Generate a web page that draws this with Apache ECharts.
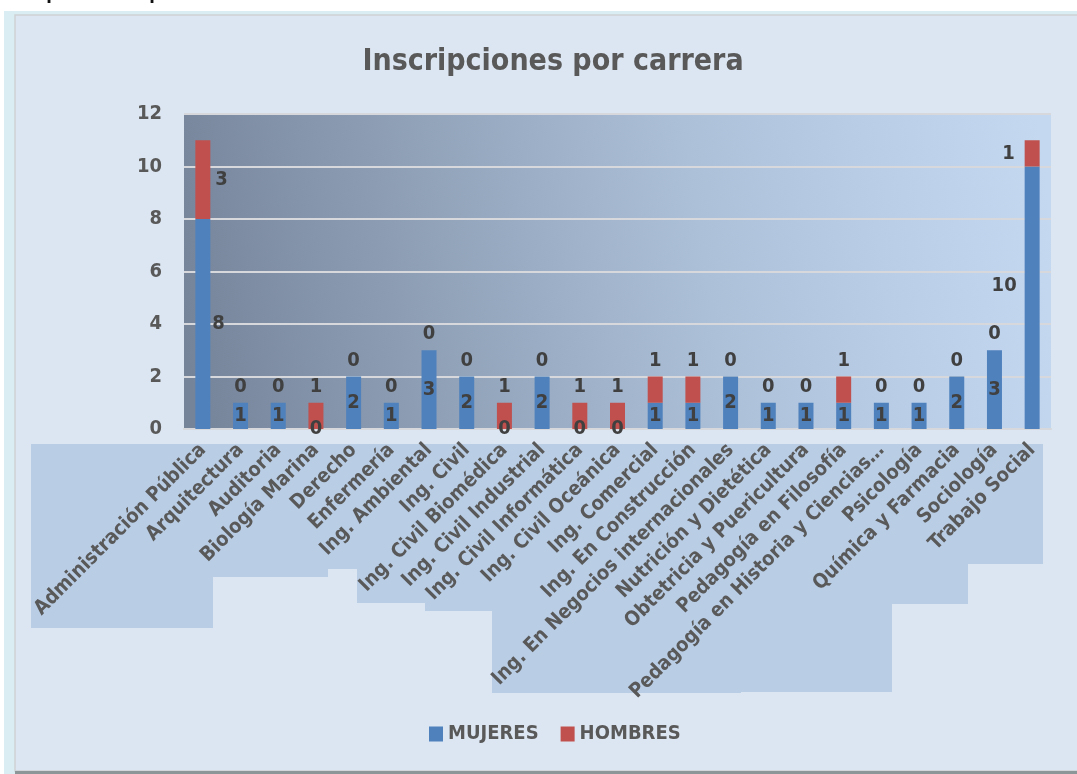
<!DOCTYPE html>
<html>
<head>
<meta charset="UTF-8">
<title>Inscripciones por carrera</title>
<script src="https://cdn.jsdelivr.net/npm/echarts@6/dist/echarts.min.js"></script>
<style>
  * {margin: 0; padding: 0;}
  body {background: #fff;}
  #chart {width: 1077px; height: 774px;}
</style>
</head>
<body>
<div id="chart"></div>
<script>
// datos
var carreras = ['Administración Pública', 'Arquitectura', 'Auditoria', 'Biología Marina', 'Derecho',
  'Enfermería', 'Ing. Ambiental', 'Ing. Civil', 'Ing. Civil Biomédica', 'Ing. Civil Industrial',
  'Ing. Civil Informática', 'Ing. Civil Oceánica', 'Ing. Comercial', 'Ing. En Construcción',
  'Ing. En Negocios internacionales', 'Nutrición y Dietética', 'Obtetricia y Puericultura',
  'Pedagogía en Filosofía', 'Pedagogía en Historia y Ciencias…', 'Psicología', 'Química y Farmacia',
  'Sociología', 'Trabajo Social'];
var mujeres = [8, 1, 1, 0, 2, 1, 3, 2, 0, 2, 0, 0, 1, 1, 2, 1, 1, 1, 1, 1, 2, 3, 10];
var hombres = [3, 0, 0, 1, 0, 0, 0, 0, 1, 0, 1, 1, 1, 1, 0, 0, 0, 1, 0, 0, 0, 0, 1];
var yTicks = [0, 2, 4, 6, 8, 10, 12];

var FONT = "'Liberation Sans Narrow', 'DejaVu Sans Condensed', 'Open Sans', sans-serif";

// etiquetas movidas a mano en el original
var ajusteM = {0: {position: 'right', distance: 2}, 22: {position: 'left', distance: 8, offset: [0, -12]}};
var ajusteH = {0: {position: 'right', distance: 5}, 22: {position: 'left', distance: 10}};

// cajas de fondo de las etiquetas del eje (x1, x2, y inferior)
var cajas = [[31, 213, 628], [213, 328, 577], [328, 357, 569], [357, 425, 603], [425, 492, 611],
  [492, 741, 693], [741, 892, 692], [892, 968, 604], [968, 1043, 564]];

function items(vals, ajuste) {
  return vals.map(function (v, i) {
    var it = {value: v};
    if (ajuste[i]) it.label = ajuste[i];
    return it;
  });
}

var graficos = [
  {type: 'rect', shape: {x: 0, y: 0, width: 1077, height: 11}, style: {fill: '#ffffff'}, silent: true},
  {type: 'rect', shape: {x: 0, y: 11, width: 1077, height: 4}, style: {fill: '#daedf2'}, silent: true},
  {type: 'rect', shape: {x: 0, y: 0, width: 4, height: 774}, style: {fill: '#ffffff'}, silent: true},
  {type: 'rect', shape: {x: 4, y: 11, width: 11, height: 763}, style: {fill: '#daedf2'}, silent: true},
  {type: 'rect', shape: {x: 15, y: 15, width: 1070, height: 756}, style: {fill: null, stroke: '#cfd2d5', lineWidth: 1.5}, silent: true},
  {type: 'rect', shape: {x: 15, y: 771, width: 1062, height: 3}, style: {fill: '#8c9698'}, silent: true},
  {type: 'text', x: 52, y: 3, style: {text: 'p', font: 'bold 18px ' + FONT, fill: '#111', align: 'center', verticalAlign: 'bottom'}, silent: true},
  {type: 'text', x: 155, y: 3, style: {text: 'p', font: 'bold 18px ' + FONT, fill: '#111', align: 'center', verticalAlign: 'bottom'}, silent: true}
];
cajas.forEach(function (c) {
  graficos.push({type: 'rect', z: -1, shape: {x: c[0], y: 444, width: c[1] - c[0], height: c[2] - 444},
    style: {fill: '#b9cde5'}, silent: true});
});

var chart = echarts.init(document.getElementById('chart'));
var option = {
  backgroundColor: '#dce6f2',
  animation: false,
  textStyle: {fontFamily: FONT},
  title: {
    text: 'Inscripciones por carrera',
    left: 548, top: 42, textAlign: 'center',
    textStyle: {fontFamily: FONT, fontSize: 30, fontWeight: 'bold', color: '#595959'}
  },
  legend: {
    data: ['MUJERES', 'HOMBRES'],
    left: 424, top: 719,
    icon: 'rect', itemWidth: 14, itemHeight: 15, itemGap: 22,
    textStyle: {fontFamily: FONT, fontSize: 20, fontWeight: 'bold', color: '#595959'}
  },
  graphic: graficos,
  grid: {
    left: 184, right: 26, top: 114, bottom: 345,
    show: true, borderWidth: 0,
    backgroundColor: {
      type: 'linear', x: 0, y: 0.7, x2: 1, y2: 0.3,
      colorStops: [
        {offset: 0, color: '#76849a'},
        {offset: 0.24, color: '#8c9db3'},
        {offset: 0.6, color: '#acc0d8'},
        {offset: 0.8, color: '#b9cde7'},
        {offset: 1, color: '#c4d8f0'}
      ]
    }
  },
  xAxis: {
    type: 'category',
    data: carreras,
    axisLine: {lineStyle: {color: '#d6d8db', width: 2}},
    axisTick: {show: false},
    axisLabel: {
      interval: 0, rotate: 45, margin: 18,
      fontFamily: FONT, fontSize: 20, fontWeight: 'bold', color: '#595959'
    }
  },
  yAxis: {
    type: 'value',
    min: yTicks[0], max: yTicks[yTicks.length - 1], interval: 2,
    axisLine: {show: false},
    axisTick: {show: false},
    splitLine: {lineStyle: {color: '#d6d8db', width: 2}},
    axisLabel: {margin: 22, fontFamily: FONT, fontSize: 20, fontWeight: 'bold', color: '#595959'}
  },
  series: [
    {
      name: 'MUJERES', type: 'bar', stack: 'total', barWidth: 15,
      itemStyle: {color: '#4f81bd'},
      label: {show: true, position: 'inside', fontFamily: FONT, fontSize: 20, fontWeight: 'bold', color: '#404040'},
      data: items(mujeres, ajusteM)
    },
    {
      name: 'HOMBRES', type: 'bar', stack: 'total', barWidth: 15,
      itemStyle: {color: '#c0504d'},
      label: {show: true, position: 'top', distance: 6, fontFamily: FONT, fontSize: 20, fontWeight: 'bold', color: '#404040'},
      data: items(hombres, ajusteH)
    }
  ]
};
chart.setOption(option);
</script>
</body>
</html>
